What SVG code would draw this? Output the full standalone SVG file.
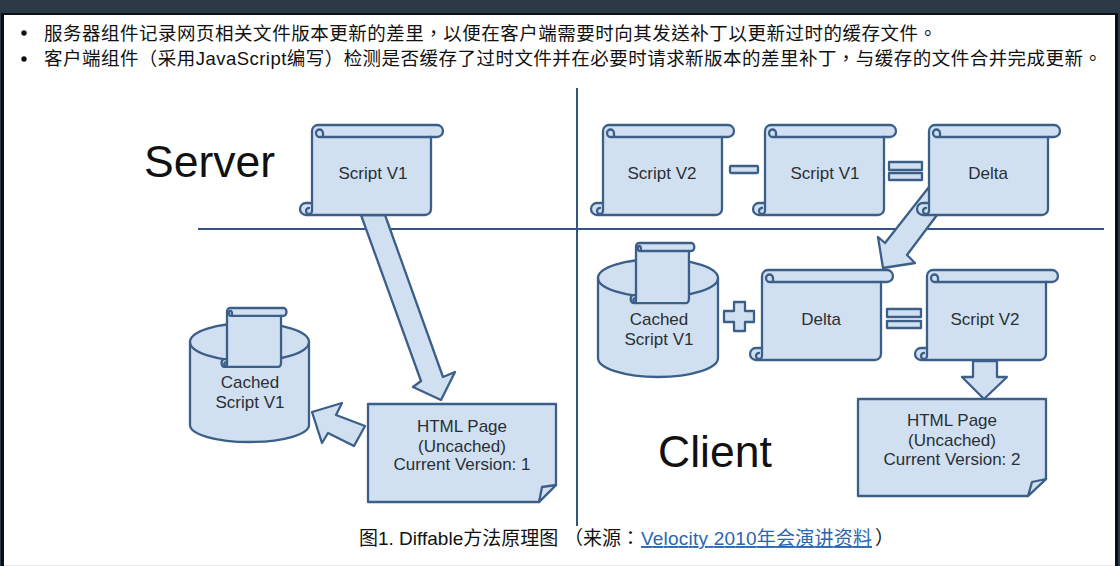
<svg xmlns="http://www.w3.org/2000/svg" width="1120" height="566" viewBox="0 0 1120 566">
<style>
text{font-family:"Liberation Sans","Noto Sans CJK TC",sans-serif;fill:#222}
.s{fill:#d0e0f0;stroke:#3c5f8a;stroke-width:2.3;stroke-linejoin:round}
.d{fill:none;stroke:#3c5f8a;stroke-width:2.3;stroke-linecap:round}
.n{vector-effect:non-scaling-stroke}
.l{font-size:17px;text-anchor:middle;fill:#2a2f36}
.big{font-size:44.5px;fill:#111}
.cn{font-size:18.5px;fill:#111}
.cap{font-size:19px;fill:#111}
.link{font-size:19px;fill:#2a66b0;text-decoration:underline}
.line{stroke:#33557f;stroke-width:2;fill:none}
</style>
<defs>
<g id="scroll">
<path class="s n" d="M0,6A6,6 0 0 1 6,0H125A6,6 0 0 1 125,12H119V84A6,6 0 0 1 113,90H-6A6,6 0 0 1 -6,78H0Z"/>
<path class="d n" d="M8,12H119M8,12A4,4 0 0 1 4,8A3.5,3.5 0 0 1 11,8V12M0,78V86A3,3 0 0 1 -6,86A3,3 0 0 1 -3,83"/>
</g>
</defs>
<rect width="1120" height="566" fill="#2c3a47"/>
<rect x="1" y="13" width="1117" height="553" fill="#0b0f14"/>
<rect x="4" y="15" width="1111" height="551" fill="#ffffff"/>
<rect x="4" y="565" width="1111" height="1" fill="#e4e6e8"/>
<g id="text-block">
<circle cx="24" cy="33" r="2.7" fill="#111"/>
<circle cx="24" cy="59" r="2.7" fill="#111"/>
<text class="cn" x="44" y="40" textLength="893" lengthAdjust="spacing">服务器组件记录网页相关文件版本更新的差里，以便在客户端需要时向其发送补丁以更新过时的缓存文件。</text>
<text class="cn" x="44" y="65" textLength="1058" lengthAdjust="spacing">客户端组件（采用JavaScript编写）检测是否缓存了过时文件并在必要时请求新版本的差里补丁，与缓存的文件合并完成更新。</text>
<text class="big" x="144" y="177">Server</text>
<text class="big" x="658" y="467">Client</text>
<text class="cap" x="359" y="545">图1. Diffable方法原理图</text>
<text class="cap" x="564" y="545">（来源：</text>
<text class="link" x="641" y="545" textLength="231" lengthAdjust="spacing">Velocity 2010年会演讲资料</text>
<text class="cap" x="875" y="545">）</text>
</g>
<g id="connectors">
<path class="line" d="M577,88V526M198,229H1104"/>
<path class="s" d="M361,215L421,381L413,387L441,400L455,372L443,377L385,215Z"/>
<path class="s" d="M365,426L336,415L342,403L312,412L322,443L328,433L354,446Z"/>
<path class="s" d="M929,187L885,243L878,237L883,268L915,263L907,255L937,215Z"/>
<path class="s" d="M973,361V377H962L984,399L1007,377H997V361Z"/>
</g>
<g id="script-v1-server"><use href="#scroll" x="312" y="125"/><text class="l" x="373" y="179">Script V1</text></g>
<g id="script-v2-top"><use href="#scroll" x="603" y="125"/><text class="l" x="662" y="179">Script V2</text></g>
<g id="minus-op"><rect class="s" x="730" y="166" width="28" height="7" rx="1"/></g>
<g id="script-v1-top"><use href="#scroll" x="765" y="125"/><text class="l" x="825" y="179">Script V1</text></g>
<g id="equals-top"><rect class="s" x="889" y="162" width="33" height="8"/><rect class="s" x="889" y="173" width="33" height="7"/></g>
<g id="delta-top"><use href="#scroll" x="929" y="125"/><text class="l" x="988" y="179">Delta</text></g>
<g id="cache-server">
<path class="s" d="M190,342A59.5,19 0 0 1 309,342V425A59.5,17 0 0 1 190,425Z"/>
<path class="d" d="M190,342A59.5,19 0 0 0 309,342"/>
<use href="#scroll" transform="translate(227,308) scale(.454,.655)"/>
<text class="l" x="250" y="388">Cached</text><text class="l" x="250" y="408">Script V1</text>
</g>
<g id="html-page-1">
<path class="s" d="M368,404H556V485L539,502H368Z"/>
<path class="s" d="M556,485L542,487L539,502Z"/>
<text class="l" x="462" y="432">HTML Page</text><text class="l" x="462" y="452">(Uncached)</text><text class="l" x="462" y="470">Current Version: 1</text>
</g>
<g id="cache-client">
<path class="s" d="M598,278A60,19 0 0 1 718,278V358A60,19 0 0 1 598,358Z"/>
<path class="d" d="M598,278A60,19 0 0 0 718,278"/>
<use href="#scroll" transform="translate(636,243) scale(.445,.667)"/>
<text class="l" x="659" y="325">Cached</text><text class="l" x="659" y="345">Script V1</text>
</g>
<g id="plus-op"><path class="s" d="M734,302H745V311H754V322H745V331H734V322H724V311H734Z"/></g>
<g id="delta-client"><use href="#scroll" x="762" y="270"/><text class="l" x="821" y="325">Delta</text></g>
<g id="equals-client"><rect class="s" x="887" y="309" width="34" height="8"/><rect class="s" x="887" y="321" width="34" height="7"/></g>
<g id="script-v2-client"><use href="#scroll" x="927" y="270"/><text class="l" x="985" y="325">Script V2</text></g>
<g id="html-page-2">
<path class="s" d="M858,399H1046V479L1028,496H858Z"/>
<path class="s" d="M1046,479L1032,482L1028,496Z"/>
<text class="l" x="952" y="426">HTML Page</text><text class="l" x="952" y="446">(Uncached)</text><text class="l" x="952" y="465">Current Version: 2</text>
</g>
</svg>
